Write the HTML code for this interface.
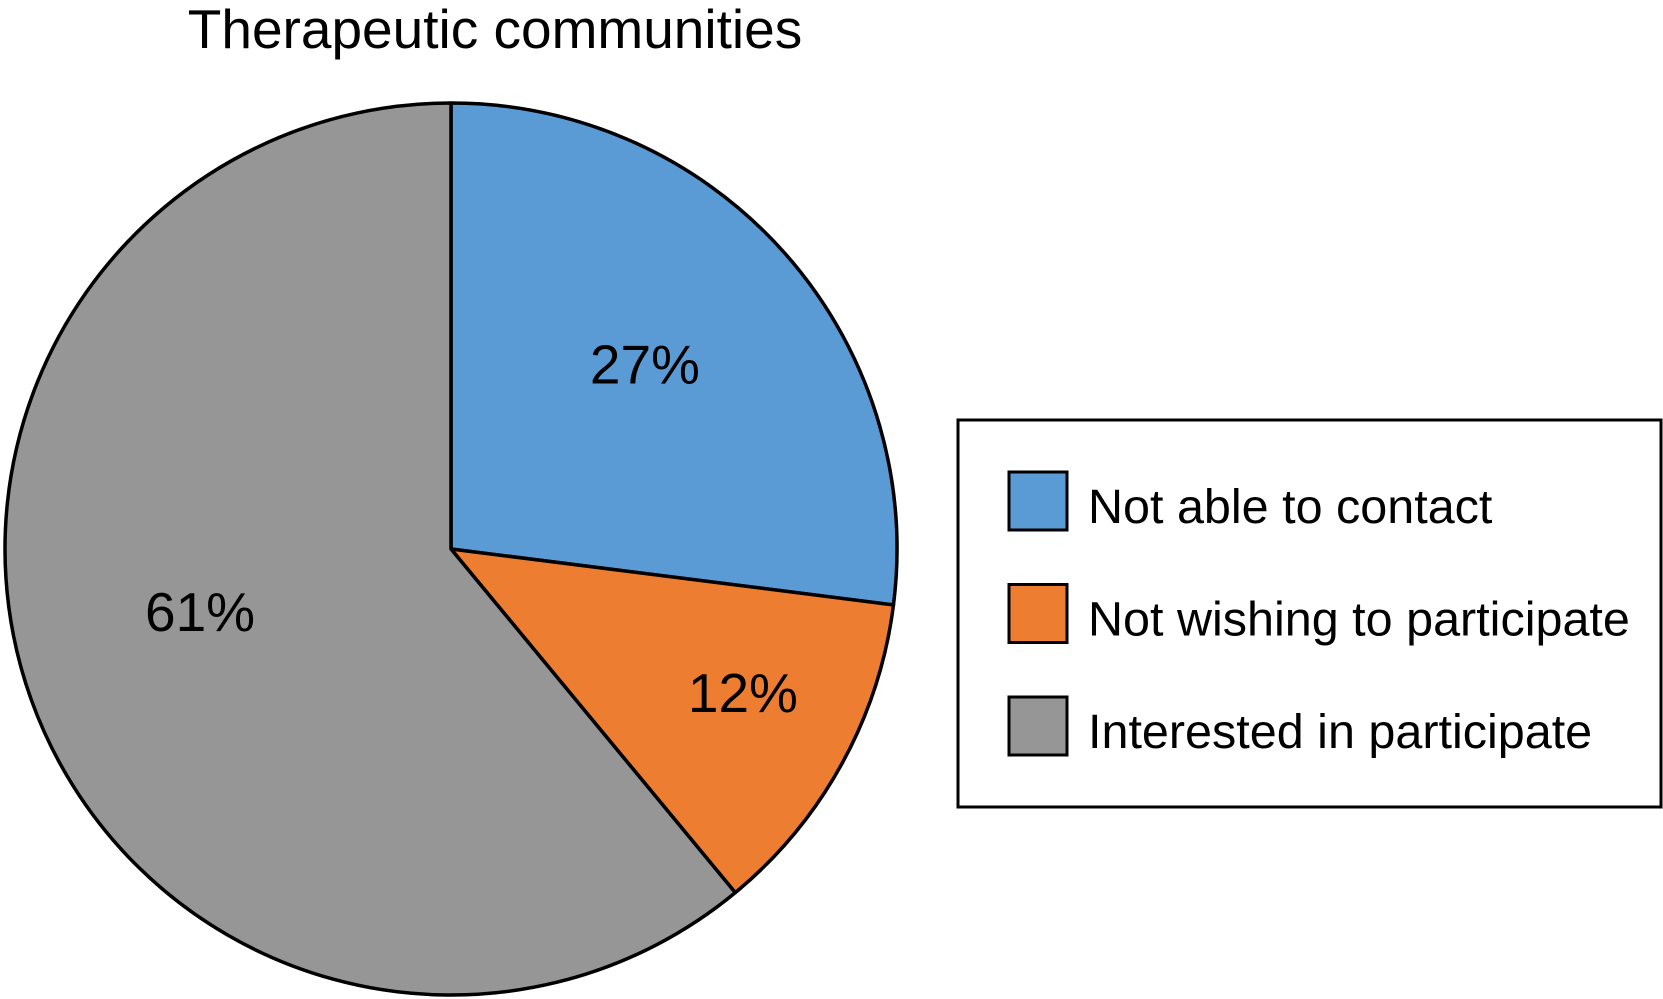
<!DOCTYPE html>
<html><head><meta charset="utf-8"><style>
html,body{margin:0;padding:0;background:#fff;}
svg{display:block;font-family:"Liberation Sans",Arial,sans-serif;}
</style></head><body>
<svg id="chart" width="1663" height="999" viewBox="0 0 1663 999">
<text x="495" y="48" font-size="55" text-anchor="middle" fill="#000">Therapeutic communities</text>
<g id="slices"></g>
<g id="labels"></g>
<g id="legend">
<rect x="958" y="420" width="703" height="387" fill="#fff" stroke="#000" stroke-width="3"/>
</g>
</svg>
<script>
const categories = ["Not able to contact","Not wishing to participate","Interested in participate"];
const values = [27, 12, 61];
const valueLabels = ["27%","12%","61%"];
const colors = ["#5b9bd5","#ed7d31","#969696"];
const cx = 451, cy = 549, r = 446;
const NS = "http://www.w3.org/2000/svg";
const total = values.reduce((a,b)=>a+b,0);
function pt(frac, rad){ const a = frac*2*Math.PI; return [cx + rad*Math.sin(a), cy - rad*Math.cos(a)]; }
const sg = document.getElementById('slices'), lg = document.getElementById('labels'), leg = document.getElementById('legend');
const labelRadius = [0.6, 0.73, 0.58];
const labelShift = [-0.006, -0.007, 0.016];
let cum = 0;
values.forEach((v,i)=>{
  const s = cum/total, e = (cum+v)/total; cum += v;
  const p0 = pt(s,r), p1 = pt(e,r);
  const large = (e-s) > 0.5 ? 1 : 0;
  const path = document.createElementNS(NS,'path');
  path.setAttribute('d', `M${cx},${cy} L${p0[0]},${p0[1]} A${r},${r} 0 ${large} 1 ${p1[0]},${p1[1]} Z`);
  path.setAttribute('fill', colors[i]);
  path.setAttribute('stroke', '#000');
  path.setAttribute('stroke-width', '3.5');
  path.setAttribute('stroke-linejoin', 'round');
  
  
  sg.appendChild(path);
  const m = pt((s+e)/2 + labelShift[i], r*labelRadius[i]);
  const t = document.createElementNS(NS,'text');
  t.setAttribute('x', m[0]); t.setAttribute('y', m[1]+19);
  t.setAttribute('font-size', '55'); t.setAttribute('text-anchor','middle');
  t.textContent = valueLabels[i];
  
  
  lg.appendChild(t);
  const y0 = 472 + i*112.5;
  const sw = document.createElementNS(NS,'rect');
  sw.setAttribute('x', 1009); sw.setAttribute('y', y0);
  sw.setAttribute('width', 58); sw.setAttribute('height', 58);
  sw.setAttribute('fill', colors[i]); sw.setAttribute('stroke', '#000'); sw.setAttribute('stroke-width', '3');
  
  
  leg.appendChild(sw);
  const lt = document.createElementNS(NS,'text');
  lt.setAttribute('x', 1088); lt.setAttribute('y', y0 + 51);
  lt.setAttribute('font-size', '48.5');
  lt.textContent = categories[i];
  
  
  leg.appendChild(lt);
});
</script>
</body></html>
